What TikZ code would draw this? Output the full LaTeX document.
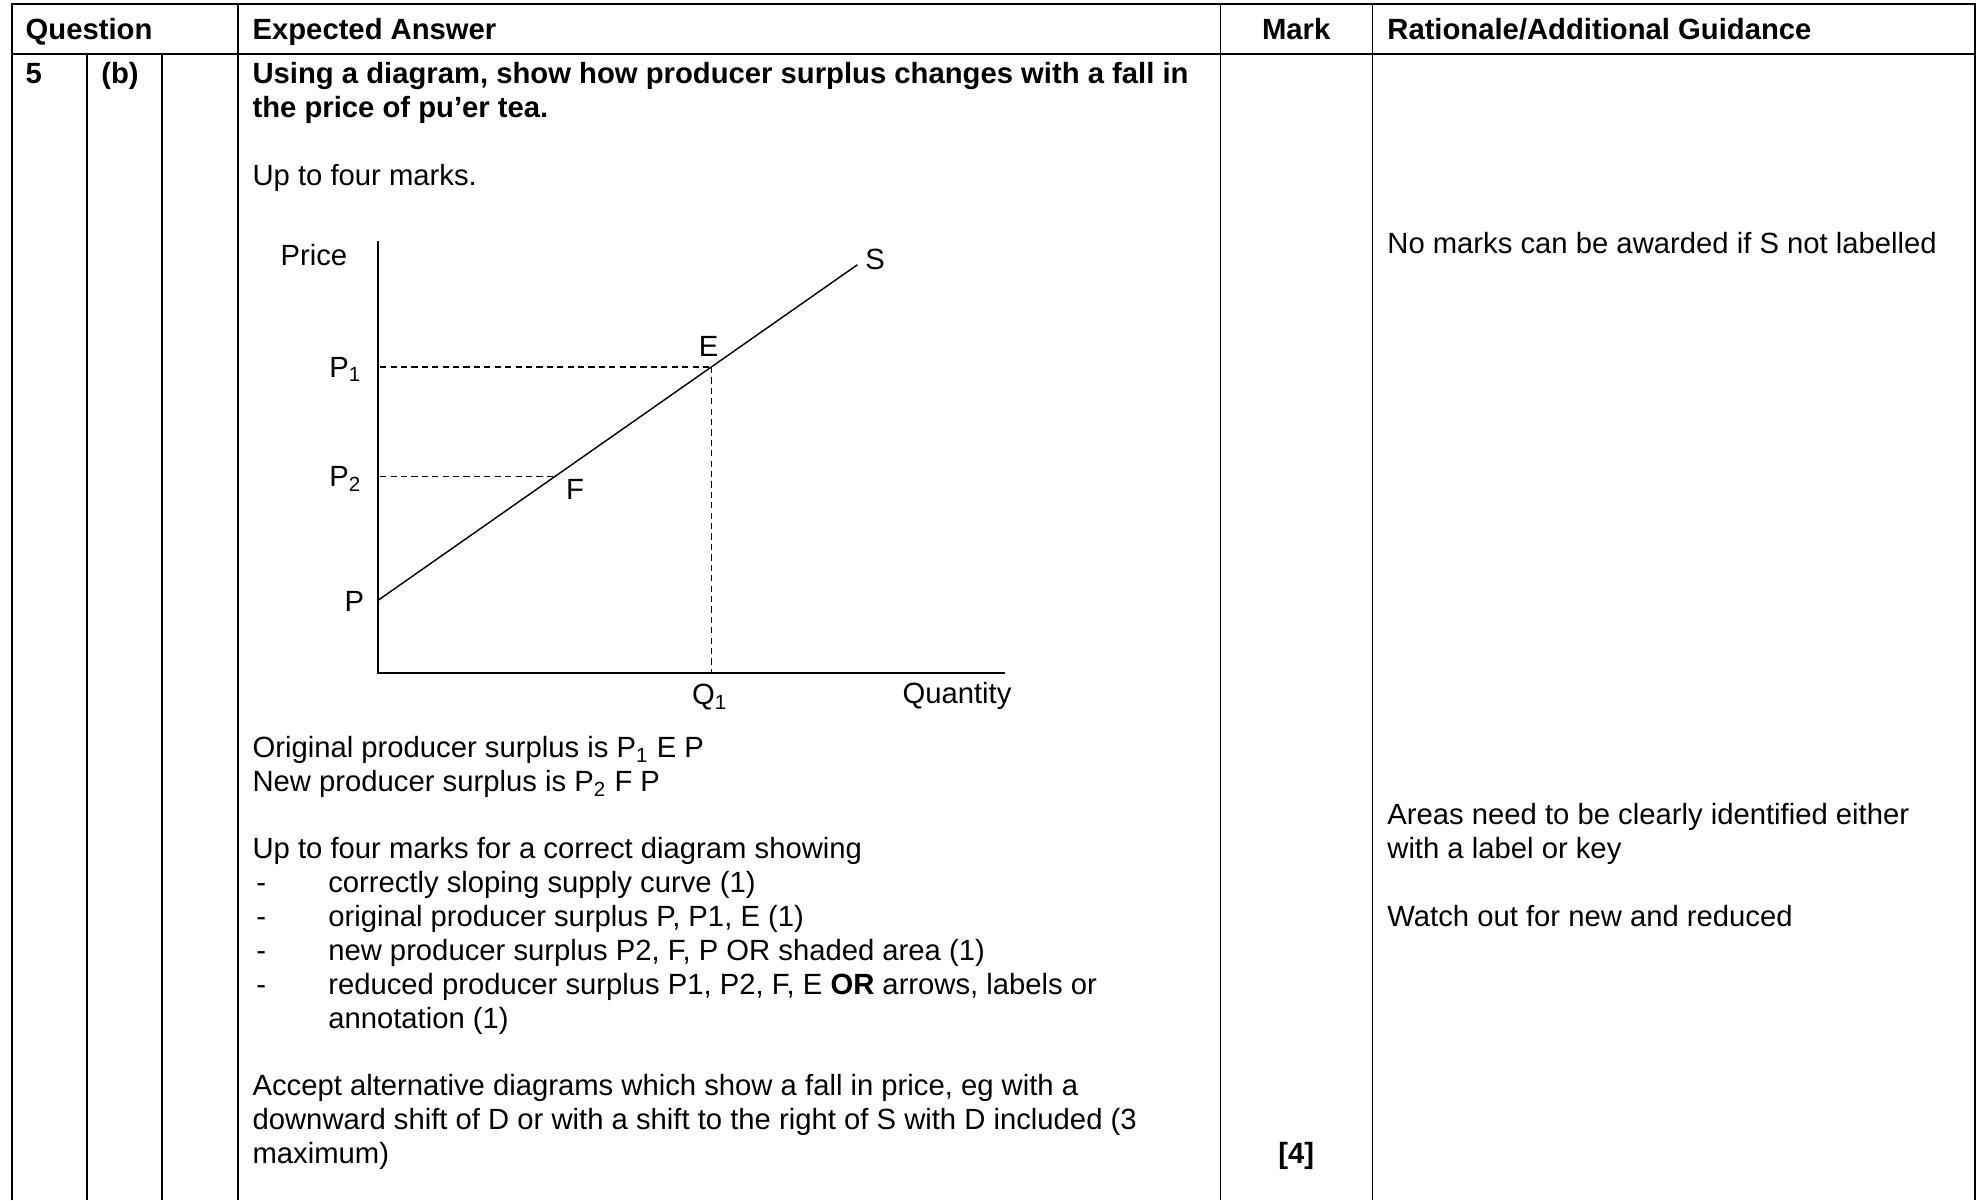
\documentclass[tikz,border=0pt]{standalone}
\usepackage{fontspec}
\setmainfont{Liberation Sans}
\usepackage{tikz}
\usetikzlibrary{positioning}
\tikzset{
  cellrule/.style  = {draw=black, line width=0.75pt},
  headrule/.style  = {draw=black, line width=0.95pt},
  bodytext/.style  = {anchor=base west, inner sep=0pt,
                      font=\fontsize{13.2}{15.35}\selectfont},
  headtext/.style  = {bodytext, font=\fontsize{13.2}{15.35}\selectfont\bfseries},
  axisline/.style  = {draw=black, line width=0.75pt},
  supplyline/.style= {draw=black, line width=0.65pt},
  guideline/.style = {draw=black, line width=0.65pt, dash pattern=on 2.8pt off 1.9pt},
  glabel/.style    = {inner sep=0pt, font=\fontsize{13.2}{15.35}\selectfont},
}
\begin{document}
\begin{tikzpicture}[x=0.02cm, y=-0.02cm]
  \useasboundingbox (0,0) rectangle (1568,952);
  % table frame
  \draw[cellrule] (9.5,952) -- (9.5,3.2) -- (1566.5,3.2) -- (1566.5,952);
  \draw[headrule] (9.5,43) -- (1566.5,43);
  \draw[cellrule] (69,43) -- (69,952);
  \draw[cellrule] (128.5,43) -- (128.5,952);
  \draw[cellrule] (189,3.2) -- (189,952);
  \draw[cellrule] (968,3.2) -- (968,952);
  \draw[cellrule] (1088.5,3.2) -- (1088.5,952);
  % header row
  \node[headtext] (hq) at (20,31) {Question};
  \node[headtext] (ha) at (200,31) {Expected Answer};
  \node[headtext, anchor=base] (hm) at (1028,31) {Mark};
  \node[headtext] (hr) at (1100,31) {Rationale/Additional Guidance};
  % question number
  \node[headtext] (qn) at (20,66) {5};
  \node[headtext] (qp) at (80,66) {(b)};
  \node[headtext] (t1) at (200,66) {Using a diagram, show how producer surplus changes with a fall in};
  \node[headtext] (t2) at (200,93) {the price of pu’er tea.};
  \node[bodytext] (t3) at (200,147) {Up to four marks.};

  % supply diagram
  \coordinate (O)    at (300,534);
  \coordinate (ytop) at (300,191);
  \coordinate (xend) at (797,534);
  \coordinate (P0)   at (300,476);
  \coordinate (Send) at (680,210);
  \coordinate (E)    at (564.5,291);
  \coordinate (F)    at (440,378);
  \coordinate (P1)   at (301.5,291);
  \coordinate (P2)   at (301.5,378);
  \coordinate (Q1)   at (564.5,533);
  \draw[axisline] (ytop) -- (O) -- (xend);
  \draw[supplyline] (P0) -- (Send);
  \draw[guideline] (P1) -- (E);
  \draw[guideline] (P2) -- (F);
  \draw[guideline] (E) -- (Q1);
  \node[glabel] (lprice) at (249,202) {Price};
  \node[glabel] (ls)  at (694,206) {S};
  \node[glabel] (le)  at (562,275) {E};
  \node[glabel] (lp1) at (274,293) {P\textsubscript{1}};
  \node[glabel] (lp2) at (274,380) {P\textsubscript{2}};
  \node[glabel] (lf)  at (456,388) {F};
  \node[glabel] (lp)  at (281,477) {P};
  \node[glabel] (lq1) at (563,553) {Q\textsubscript{1}};
  \node[glabel] (lqty) at (759,552) {Quantity};

  % answer text
  \node[bodytext] (a1) at (200,601) {Original producer surplus is P\textsubscript{1} E P};
  \node[bodytext] (a2) at (200,628) {New producer surplus is P\textsubscript{2} F P};
  \node[bodytext] (a3) at (200,681) {Up to four marks for a correct diagram showing};
  \node[bodytext] (d1) at (203,708) {-};
  \node[bodytext] (b1) at (260,708) {correctly sloping supply curve (1)};
  \node[bodytext] (d2) at (203,735) {-};
  \node[bodytext] (b2) at (260,735) {original producer surplus P, P1, E (1)};
  \node[bodytext] (d3) at (203,762) {-};
  \node[bodytext] (b3) at (260,762) {new producer surplus P2, F, P OR shaded area (1)};
  \node[bodytext] (d4) at (203,789) {-};
  \node[bodytext] (b4) at (260,789) {reduced producer surplus P1, P2, F, E \textbf{OR} arrows, labels or};
  \node[bodytext] (b5) at (260,816) {annotation (1)};
  \node[bodytext] (c1) at (200,869) {Accept alternative diagrams which show a fall in price, eg with a};
  \node[bodytext] (c2) at (200,896) {downward shift of D or with a shift to the right of S with D included (3};
  \node[bodytext] (c3) at (200,923) {maximum)};

  % mark and guidance
  \node[headtext, anchor=base] (mk) at (1028,923) {[4]};
  \node[bodytext] (g1) at (1100,201) {No marks can be awarded if S not labelled};
  \node[bodytext] (g2) at (1100,654) {Areas need to be clearly identified either};
  \node[bodytext] (g3) at (1100,681) {with a label or key};
  \node[bodytext] (g4) at (1100,735) {Watch out for new and reduced};
\end{tikzpicture}
\end{document}
